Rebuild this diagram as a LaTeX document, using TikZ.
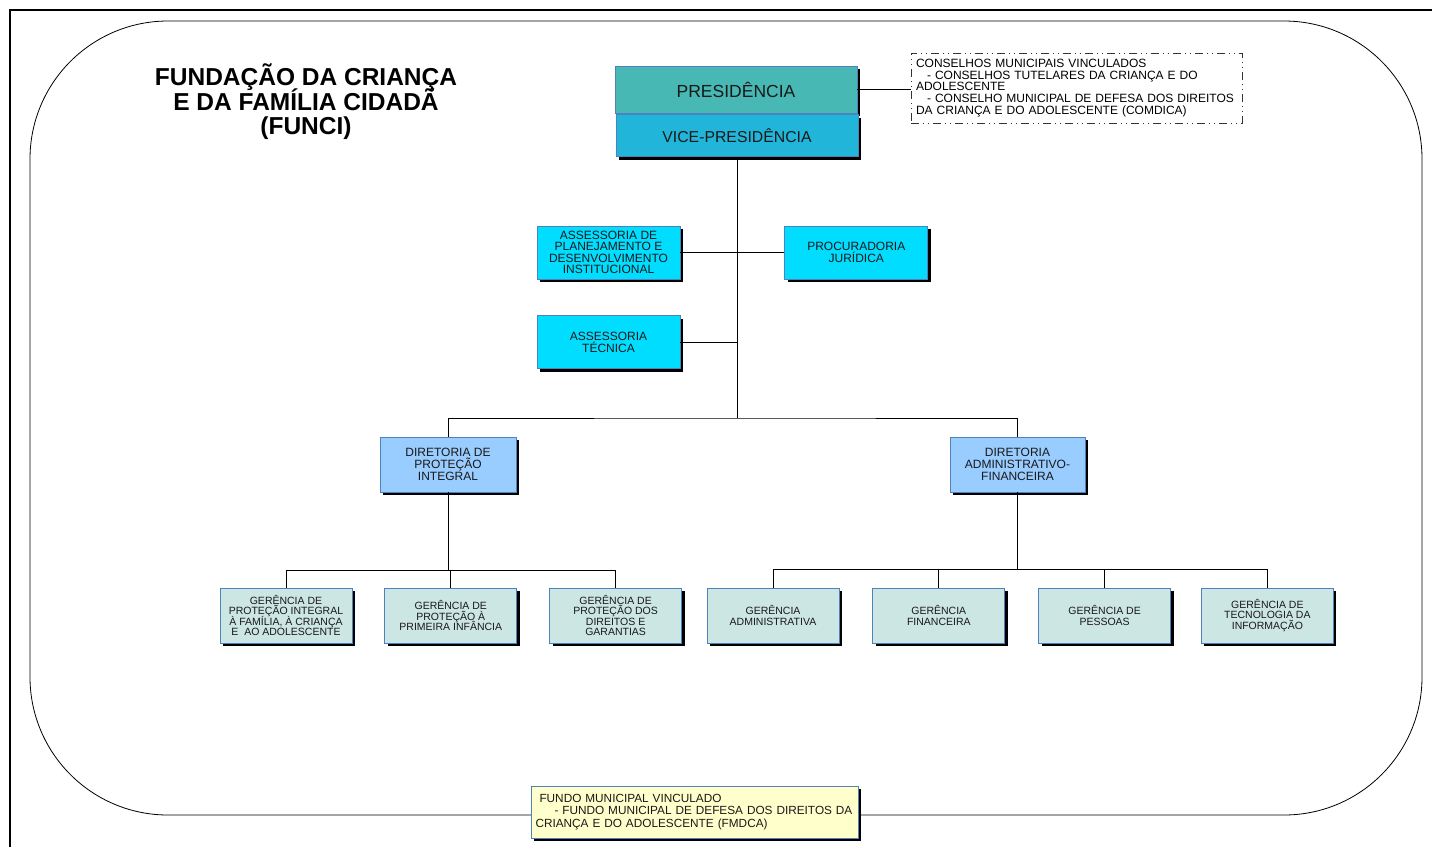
\documentclass[tikz,border=0pt]{standalone}
\usepackage{fontspec}
\setmainfont{Liberation Sans}
\usepackage{tikz}
\usetikzlibrary{
        shadows,
        positioning
    }
\definecolor{presteal}{RGB}{72,184,181}
\definecolor{viceblue}{RGB}{34,181,218}
\definecolor{asscyan}{RGB}{0,221,255}
\definecolor{dirblue}{RGB}{153,204,255}
\definecolor{gerpale}{RGB}{204,230,228}
\definecolor{fundoyellow}{RGB}{255,255,204}
\definecolor{boxedge}{RGB}{79,129,189}

\begin{document}
\begin{tikzpicture}
[x=1pt, y=-1pt,
baseshape/.style={rectangle, draw=boxedge, line width=0.8pt, align=center, text=black!90, inner sep=2pt, drop shadow={shadow xshift=3pt, shadow yshift=-3pt, fill=black, opacity=1}},
presbox/.style={baseshape, fill=presteal, minimum width=242pt, minimum height=47pt, font=\fontsize{17.5}{20}\selectfont},
vicebox/.style={baseshape, fill=viceblue, minimum width=242pt, minimum height=42pt, font=\fontsize{15.8}{18}\selectfont},
assbox/.style={baseshape, fill=asscyan, minimum width=143pt, minimum height=53pt, font=\fontsize{12}{11.5}\selectfont},
dirbox/.style={baseshape, fill=dirblue, minimum width=136pt, minimum height=55pt, font=\fontsize{12}{12}\selectfont},
gerbox/.style={baseshape, fill=gerpale, minimum width=132pt, minimum height=55pt, font=\fontsize{10.5}{10.3}\selectfont},
conbox/.style={rectangle, draw=black!80, line width=0.8pt, dash pattern=on 8pt off 4pt on 1pt off 4pt on 1pt off 4pt, align=left, text width=321pt, minimum height=70pt, inner xsep=5pt, font=\fontsize{12}{11.7}\selectfont},
fundobox/.style={baseshape, drop shadow={opacity=0}, fill=fundoyellow, align=left, text width=318pt, minimum height=52pt, inner xsep=4.5pt, font=\fontsize{11.8}{12.5}\selectfont},
link/.style={line width=1pt, black},
]
\lineskiplimit=-10pt
\useasboundingbox (0,0) rectangle (1432,847);

% frames
\draw[line width=1.8pt] (10,847) -- (10,10) -- (1432,10);
\draw[line width=0.8pt, rounded corners=138pt] (30,21) rectangle (1422,815);

\node (title) [align=center, font=\fontsize{24.5}{24.5}\selectfont\bfseries] at (306,102) {FUNDAÇÃO DA CRIANÇA\\E DA FAMÍLIA CIDADÃ\\(FUNCI)};

\node (pres) [presbox] at (736,89.5) {PRESIDÊNCIA};
\node (vice) [vicebox, below=1pt of pres, xshift=1pt] {VICE-PRESIDÊNCIA};
\node (cons) [conbox] at (1076.5,88) {CONSELHOS MUNICIPAIS VINCULADOS\\\hspace*{11pt}- CONSELHOS TUTELARES DA CRIANÇA E DO\\ADOLESCENTE\\\hspace*{11pt}- CONSELHO MUNICIPAL DE DEFESA DOS DIREITOS\\DA CRIANÇA E DO ADOLESCENTE (COMDICA)};

\node (asplan) [assbox] at (608.5,252.5) {ASSESSORIA DE\\PLANEJAMENTO E\\DESENVOLVIMENTO\\INSTITUCIONAL};
\node (proc) [assbox, right=104pt of asplan] {PROCURADORIA\\JURÍDICA};
\node (astec) [assbox, below=36pt of asplan] {ASSESSORIA\\TÉCNICA};

\node (dirpi) [dirbox] at (448,464.5) {DIRETORIA DE\\PROTEÇÃO\\INTEGRAL};
\node (diraf) [dirbox, minimum width=135pt] at (1017.5,464.5) {DIRETORIA\\ADMINISTRATIVO-\\FINANCEIRA};

\node (g1) [gerbox] at (286,615.5) {GERÊNCIA DE\\PROTEÇÃO INTEGRAL\\À FAMÍLIA, À CRIANÇA\\E~ AO ADOLESCENTE};
\node (g2) [gerbox, right=32pt of g1] {GERÊNCIA DE\\PROTEÇÃO À\\PRIMEIRA INFÂNCIA};
\node (g3) [gerbox, right=32pt of g2] {GERÊNCIA DE\\PROTEÇÃO DOS\\DIREITOS E\\GARANTIAS};
\node (g4) [gerbox] at (773,615.5) {GERÊNCIA\\ADMINISTRATIVA};
\node (g5) [gerbox, right=33pt of g4] {GERÊNCIA\\FINANCEIRA};
\node (g6) [gerbox, right=33pt of g5] {GERÊNCIA DE\\PESSOAS};
\node (g7) [gerbox, right=30pt of g6] {GERÊNCIA DE\\TECNOLOGIA DA\\INFORMAÇÃO};

\node (fundo) [fundobox] at (694.5,812) {\hspace*{4pt}FUNDO MUNICIPAL VINCULADO\\\hspace*{19pt}- FUNDO MUNICIPAL DE DEFESA DOS DIREITOS DA\\CRIANÇA E DO ADOLESCENTE (FMDCA)};

\coordinate (trunk) at (737,418);
\coordinate (pibus) at (448,570);
\coordinate (afbus) at (1017.5,569);

\draw[link] (pres.east) -- (pres.east -| cons.west);
\draw[link] (vice.south) -- (trunk);
\draw[link] (asplan.east) -- (proc.west);
\draw[link] (astec.east) -- (astec.east -| trunk);
\draw[link] (dirpi.north) |- (trunk) -| (diraf.north);

\draw[link] (dirpi.south) -- (pibus);
\draw[link] (g1.north) |- (pibus) -| (g3.north);
\draw[link] (g2.north) |- (pibus);

\draw[link] (diraf.south) -- (afbus);
\draw[link] (g4.north) |- (afbus) -| (g7.north);
\draw[link] (g5.north) |- (afbus);
\draw[link] (g6.north) |- (afbus);
\end{tikzpicture}
\end{document}
